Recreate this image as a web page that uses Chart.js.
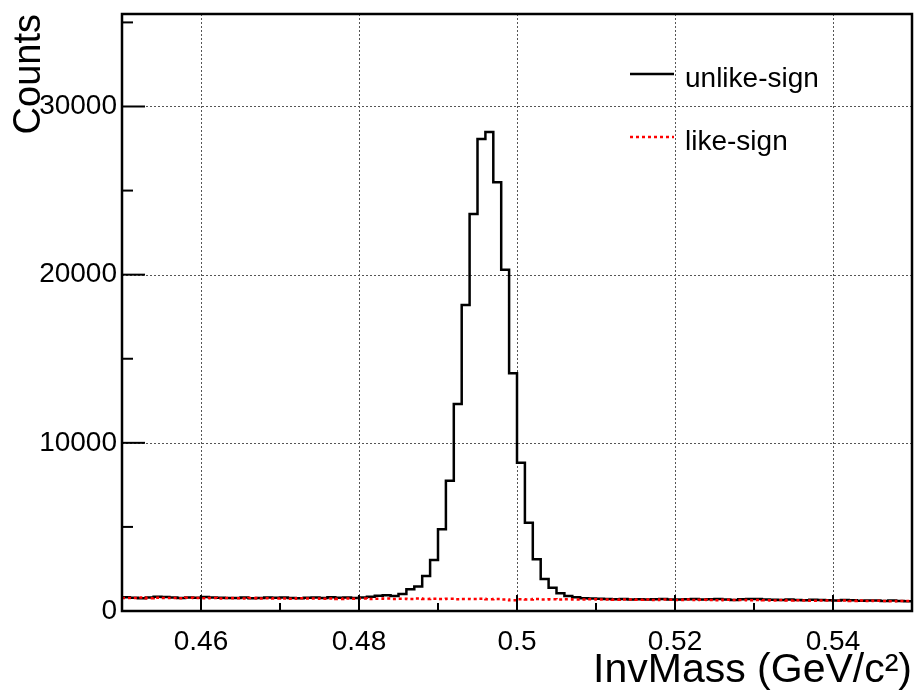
<!DOCTYPE html>
<html>
<head>
<meta charset="utf-8">
<script src="https://cdn.jsdelivr.net/npm/chart.js@4.4.0/dist/chart.umd.min.js"></script>
<style>
  html, body { margin: 0; padding: 0; background: #fff; }
  #wrap { width: 914px; height: 695px; }
</style>
</head>
<body>
<div id="wrap"><canvas id="histChart" width="914" height="695"></canvas></div>
<script>
// histogram binning (100 bins of 1 MeV)
const binStart = 0.45;
const binWidth = 0.001;

const unlikeSign = [
  820, 790, 760, 800, 840, 830, 810, 780, 800, 790,
  830, 810, 790, 770, 780, 800, 760, 770, 800, 790,
  810, 780, 760, 790, 800, 770, 820, 790, 810, 780,
  800, 850, 900, 930, 890, 1010, 1290, 1450, 2080, 3030,
  4860, 7750, 12310, 18200, 23600, 28060, 28480, 25500, 20290, 14140,
  8820, 5250, 3080, 1900, 1380, 1050, 890, 815, 760, 740,
  730, 720, 700, 710, 690, 700, 680, 700, 720, 690,
  680, 700, 710, 680, 700, 720, 690, 660, 700, 720,
  710, 680, 670, 650, 680, 660, 640, 670, 650, 640,
  620, 650, 640, 610, 630, 620, 600, 620, 590, 580
];

const likeSign = [
  780, 770, 800, 760, 790, 770, 780, 760, 790, 770,
  760, 780, 750, 770, 760, 740, 770, 750, 760, 740,
  750, 730, 760, 740, 750, 730, 740, 720, 750, 730,
  740, 720, 730, 740, 720, 730, 710, 740, 720, 730,
  710, 730, 700, 720, 710, 730, 700, 710, 690, 640,
  700, 690, 710, 690, 700, 680, 700, 690, 680, 700,
  680, 690, 670, 690, 680, 670, 690, 660, 680, 670,
  660, 680, 650, 670, 660, 640, 670, 650, 660, 640,
  650, 640, 630, 650, 620, 640, 630, 610, 630, 620,
  610, 630, 600, 620, 590, 610, 600, 580, 600, 590
];

const seriesLabels = ["unlike-sign", "like-sign"];
const xTickValues = [0.46, 0.48, 0.5, 0.52, 0.54];
const xMinorTicks = [0.47, 0.49, 0.51, 0.53];
const yTickValues = [0, 10000, 20000, 30000];
const yMinorTicks = [5000, 15000, 25000, 35000];

const fontFamily = "'Liberation Sans', Arial, Helvetica, sans-serif";

function toSteps(counts) {
  const pts = counts.map((c, i) => ({ x: binStart + i * binWidth, y: c }));
  pts.push({ x: binStart + counts.length * binWidth, y: counts[counts.length - 1] });
  return pts;
}

function seg(ctx, x1, y1, x2, y2) {
  ctx.beginPath();
  ctx.moveTo(x1, y1);
  ctx.lineTo(x2, y2);
  ctx.stroke();
}

const rootFrame = {
  id: "rootFrame",
  beforeDatasetsDraw(chart) {
    const { ctx, chartArea: a, scales: { x, y } } = chart;
    ctx.save();
    ctx.strokeStyle = "#555";
    ctx.lineWidth = 1;
    ctx.setLineDash([2, 2]);
    xTickValues.forEach(v => {
      const px = Math.round(x.getPixelForValue(v)) + 0.5;
      seg(ctx, px, a.top, px, a.bottom);
    });
    yTickValues.slice(1).forEach(v => {
      const py = Math.round(y.getPixelForValue(v)) + 0.5;
      seg(ctx, a.left, py, a.right, py);
    });
    ctx.restore();
  },
  afterDatasetsDraw(chart) {
    const { ctx, chartArea: a, scales: { x, y } } = chart;
    ctx.save();
    ctx.strokeStyle = "#000";
    ctx.lineWidth = 2;
    xTickValues.forEach(v => { const px = x.getPixelForValue(v); seg(ctx, px, a.bottom, px, a.bottom - 16); });
    xMinorTicks.forEach(v => { const px = x.getPixelForValue(v); seg(ctx, px, a.bottom, px, a.bottom - 8); });
    yTickValues.forEach(v => { const py = y.getPixelForValue(v); seg(ctx, a.left, py, a.left + 23, py); });
    yMinorTicks.forEach(v => { const py = y.getPixelForValue(v); seg(ctx, a.left, py, a.left + 11, py); });
    ctx.lineWidth = 2.5;
    ctx.strokeRect(a.left, a.top, a.right - a.left, a.bottom - a.top);
    ctx.restore();
  },
  afterDraw(chart) {
    const ctx = chart.ctx;
    const rows = [{ y: 74 }, { y: 137 }];
    ctx.save();
    ctx.font = "28px " + fontFamily;
    ctx.fillStyle = "#000";
    ctx.textBaseline = "alphabetic";
    chart.data.datasets.forEach((ds, i) => {
      ctx.strokeStyle = ds.borderColor;
      ctx.lineWidth = ds.borderWidth;
      ctx.setLineDash(ds.borderDash || []);
      seg(ctx, 630, rows[i].y, 674, rows[i].y);
      ctx.setLineDash([]);
      ctx.fillText(ds.label, 685, rows[i].y + 13);
    });
    ctx.restore();
  }
};

const ctx = document.getElementById("histChart").getContext("2d");
const chart = new Chart(ctx, {
  type: "line",
  data: {
    datasets: [{
      label: seriesLabels[0],
      data: toSteps(unlikeSign),
      borderColor: "#000000",
      borderWidth: 2.5,
      stepped: "before",
      pointRadius: 0,
      fill: false,
      order: 1
    }, {
      label: seriesLabels[1],
      data: toSteps(likeSign),
      borderColor: "#ff0000",
      borderWidth: 2.5,
      borderDash: [3, 3],
      stepped: "before",
      pointRadius: 0,
      fill: false,
      order: 0
    }]
  },
  options: {
    responsive: false,
    animation: false,
    devicePixelRatio: 1,
    layout: { padding: { top: 14, right: 2, left: 0, bottom: 0 } },
    plugins: { legend: { display: false }, tooltip: { enabled: false } },
    scales: {
      x: {
        type: "linear",
        min: 0.45,
        max: 0.55,
        grid: { display: false, drawTicks: false },
        border: { display: false },
        afterBuildTicks: s => { s.ticks = xTickValues.map(v => ({ value: v })); },
        afterFit: s => { s.height = 84; s.paddingLeft = 0; s.paddingRight = 0; },
        ticks: {
          autoSkip: false,
          maxRotation: 0,
          padding: 14,
          color: "#000",
          font: { family: fontFamily, size: 28 },
          callback: v => String(+v.toFixed(2))
        },
        title: {
          display: true,
          text: "InvMass (GeV/c²)",
          align: "end",
          color: "#000",
          font: { family: fontFamily, size: 41 },
          padding: { top: 0, bottom: 0 }
        }
      },
      y: {
        min: 0,
        max: 35500,
        grid: { display: false, drawTicks: false },
        border: { display: false },
        afterBuildTicks: s => { s.ticks = yTickValues.map(v => ({ value: v })); },
        afterFit: s => { s.width = 122; s.paddingTop = 0; s.paddingBottom = 0; },
        ticks: {
          autoSkip: false,
          padding: 5,
          color: "#000",
          font: { family: fontFamily, size: 28 },
          callback: v => String(v)
        },
        title: {
          display: true,
          text: "Counts",
          align: "end",
          color: "#000",
          font: { family: fontFamily, size: 38 },
          padding: { top: 7, bottom: 0 }
        }
      }
    }
  },
  plugins: [rootFrame]
});
</script>
</body>
</html>
